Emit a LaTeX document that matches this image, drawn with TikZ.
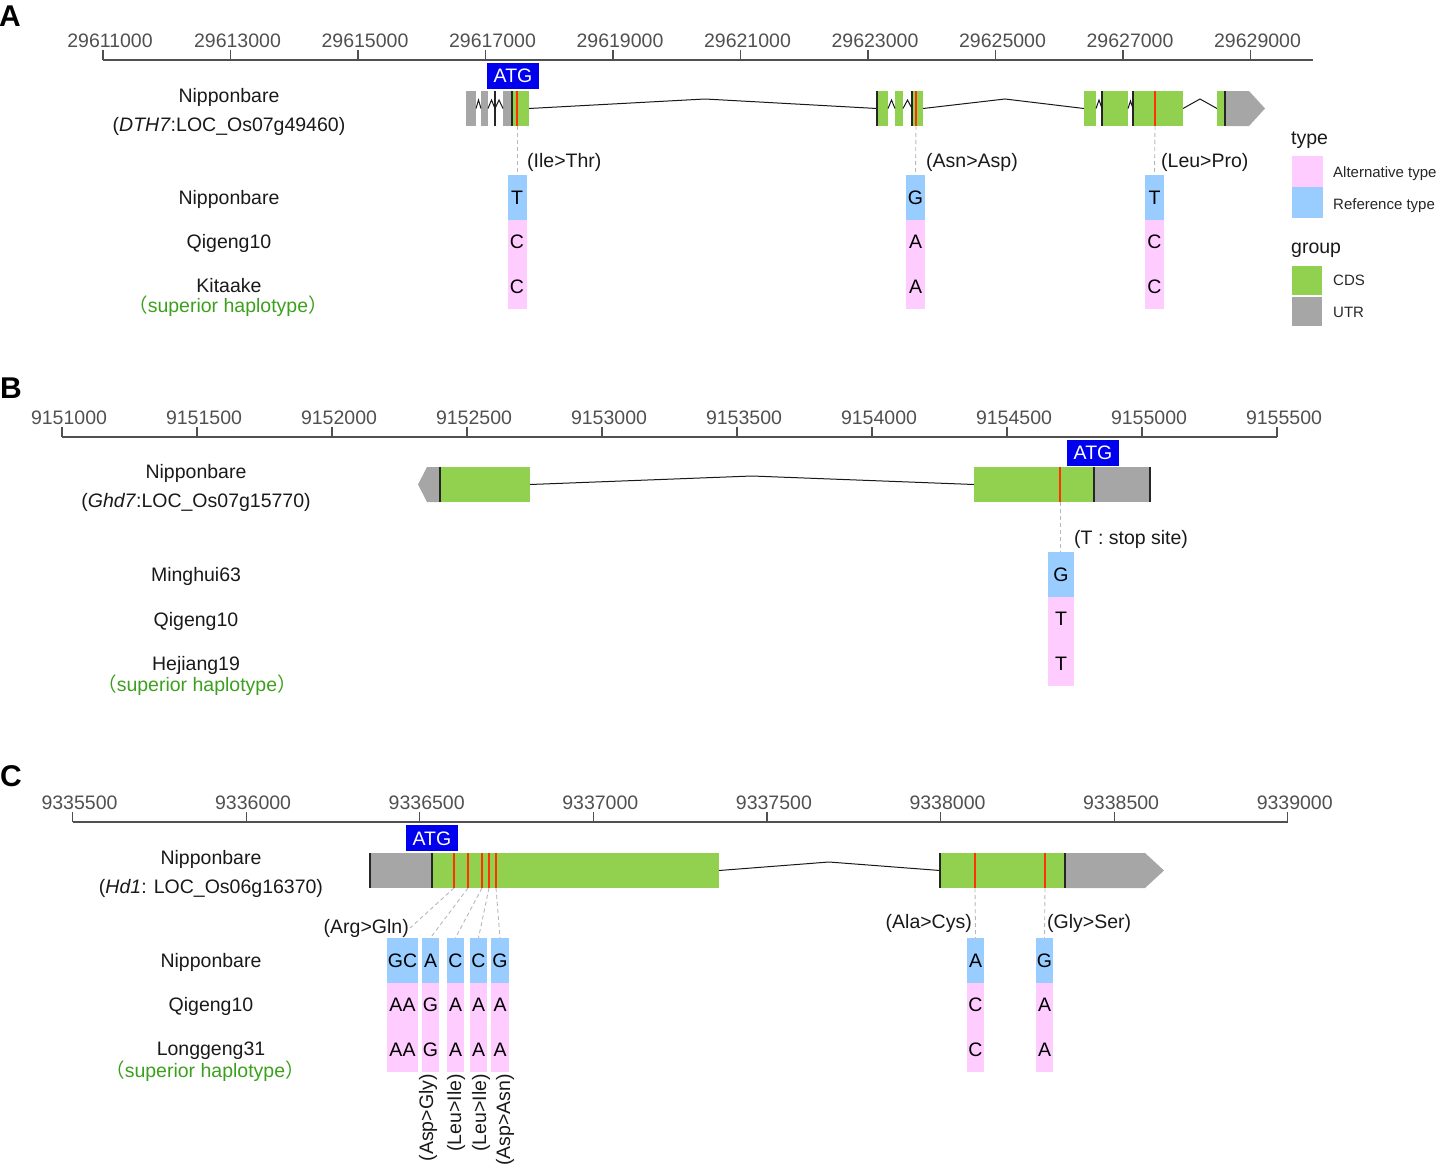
\documentclass[tikz,border=0pt]{standalone}
\usepackage{fontspec}
\setmainfont{Liberation Sans}
\newfontfamily\cjk{Noto Sans CJK SC}
\definecolor{cdsg}{RGB}{146,208,80}
\definecolor{utrg}{RGB}{166,166,166}
\definecolor{refb}{RGB}{153,204,255}
\definecolor{altp}{RGB}{255,204,255}
\definecolor{atgb}{RGB}{0,0,238}
\definecolor{snpred}{RGB}{255,51,0}
\definecolor{supg}{RGB}{60,160,30}
\definecolor{axisg}{RGB}{80,80,80}
\newcommand\fsz{\fontsize{19.5}{22}\selectfont}
\newcommand\fsl{\fontsize{15}{17}\selectfont}
\newcommand\suptext{{\cjk （}superior haplotype{\cjk ）}}
% variant column: name, x, ytop, width, ref, alt1, alt2
\newcommand\varcol[7]{%
  \node[refcell, minimum width=#4] (#1-1) at (#2,#3+22.25) {#5};
  \node[altcell, minimum width=#4] (#1-2) at (#2,#3+66.75) {#6};
  \node[altcell, minimum width=#4] (#1-3) at (#2,#3+111.25) {#7};}
\begin{document}
\begin{tikzpicture}[x=1pt,y=-1pt,
  txt/.style={font=\fsz, inner sep=0pt, text height=14pt, text depth=0pt, text=black!90},
  ticklab/.style={txt, text=axisg},
  sup/.style={txt, text=supg},
  leglab/.style={font=\fsl, inner sep=0pt, text height=11pt, text depth=0pt, text=black!85, anchor=west},
  legbox/.style={inner sep=0pt, minimum width=31pt, minimum height=31pt},
  panel/.style={font=\fontsize{30}{32}\selectfont\bfseries, inner sep=0pt},
  axisline/.style={draw=axisg, line width=1.2pt},
  cds/.style={fill=cdsg},
  utr/.style={fill=utrg},
  bnd/.style={draw=black!85, line width=1.1pt},
  snp/.style={draw=snpred, line width=1.1pt},
  intron/.style={draw=black!90, line width=1pt},
  atg/.style={fill=atgb, text=white, font=\fsz, inner sep=0pt, minimum width=52pt, minimum height=26pt, text height=14pt, text depth=0pt},
  refcell/.style={fill=refb, inner sep=0pt, minimum height=44.5pt, font=\fsz, text height=14pt, text depth=0pt},
  altcell/.style={fill=altp, inner sep=0pt, minimum height=44.5pt, font=\fsz, text height=14pt, text depth=0pt},
  link/.style={draw=black!28, dash pattern=on 4pt off 3pt, line width=0.9pt},
  rot/.style={txt, rotate=90, anchor=east}
]
\useasboundingbox (0,0) rectangle (1445,1167);

% ================= Panel A =================
\node[panel] (pA) at (10,16) {A};
\draw[axisline] (103,60) -- (1313,60);
\foreach \k in {0,...,9}{
  \pgfmathsetmacro\xx{103+127.5*\k}
  \draw[axisline] (\xx,50) -- (\xx,60);
  \node[ticklab] (tA\k) at (\xx+7,40) {\the\numexpr 29611000+2000*\k\relax};
}
% gene
\fill[utr] (466,91) rectangle (476,126);
\fill[utr] (481,91) rectangle (488,126);
\draw[bnd] (495,91) -- (495,126);
\fill[utr] (503,91) rectangle (512,126);
\fill[cds] (512,91) rectangle (529,126);
\draw[bnd] (512,91) -- (512,126);
\draw[snp] (517,91) -- (517,126);
\draw[intron] (476,108.5) -- (478.5,100) -- (481,108.5);
\draw[intron] (488,108.5) -- (491.5,100) -- (495,108.5);
\draw[intron] (495,108.5) -- (499,100) -- (503,108.5);
\draw[intron] (529,108.5) -- (705,99) -- (877,108.5);
\fill[cds] (877,91) rectangle (888,126);
\fill[cds] (895,91) rectangle (903,126);
\fill[cds] (912,91) rectangle (923,126);
\draw[bnd] (877,91) -- (877,126);
\draw[bnd] (912,91) -- (912,126);
\draw[snp] (916,91) -- (916,126);
\draw[intron] (888,108.5) -- (891.5,100) -- (895,108.5);
\draw[intron] (903,108.5) -- (907.5,100) -- (912,108.5);
\draw[intron] (923,108.5) -- (1005,99) -- (1084,108.5);
\fill[cds] (1084,91) rectangle (1096,126);
\fill[cds] (1102,91) rectangle (1128,126);
\fill[cds] (1133,91) rectangle (1183,126);
\draw[bnd] (1102,91) -- (1102,126);
\draw[bnd] (1133,91) -- (1133,126);
\draw[snp] (1155,91) -- (1155,126);
\draw[intron] (1096,108.5) -- (1099,100) -- (1102,108.5);
\draw[intron] (1128,108.5) -- (1130.5,101) -- (1133,108.5);
\draw[intron] (1183,108.5) -- (1200,99) -- (1217,108.5);
\fill[cds] (1217,91) rectangle (1225,126);
\fill[utr] (1225,91) -- (1249,91) -- (1265,108.5) -- (1249,126) -- (1225,126) -- cycle;
\draw[bnd] (1225,91) -- (1225,126);
\node[atg] (atgA) at (513,75.5) {ATG};
\node[txt] (gA1) at (229,95) {Nipponbare};
\node[txt] (gA2) at (229,124) {(\textit{DTH7}:LOC\_Os07g49460)};
% variants
\coordinate (sA1) at (517,126);
\coordinate (sA2) at (916,126);
\coordinate (sA3) at (1155,126);
\varcol{vA1}{517}{175}{19pt}{T}{C}{C}
\varcol{vA2}{915.5}{175}{19pt}{G}{A}{A}
\varcol{vA3}{1154.5}{175}{19pt}{T}{C}{C}
\draw[link] (sA1) -- (vA1-1.north);
\draw[link] (sA2) -- (vA2-1.north);
\draw[link] (sA3) -- (vA3-1.north);
\node[txt, anchor=west] (mA1) at (527,160) {(Ile>Thr)};
\node[txt, anchor=west] (mA2) at (926,160) {(Asn>Asp)};
\node[txt, anchor=west] (mA3) at (1161,160) {(Leu>Pro)};
\node[txt] (rA1) at (229,197) {Nipponbare};
\node[txt] (rA2) at (229,241.5) {Qigeng10};
\node[txt] (rA3) at (229,285) {Kitaake};
\node[sup] (rA4) at (228,305) {\suptext};
% legend
\node[txt, anchor=west] (lgT) at (1291,137) {type};
\node[legbox, fill=altp] (lgAlt) at (1307.5,171.5) {};
\node[legbox, fill=refb] (lgRef) at (1307.5,202.5) {};
\node[leglab] (lgAltT) at (1333,172) {Alternative type};
\node[leglab] (lgRefT) at (1333,204) {Reference type};
\node[txt, anchor=west] (lgG) at (1291,246) {group};
\node[legbox, fill=cdsg, minimum width=30pt, minimum height=29pt] (lgC) at (1307,280.5) {};
\node[legbox, fill=utrg, minimum width=30pt, minimum height=29pt] (lgU) at (1307,311.5) {};
\node[leglab] (lgCT) at (1333,280) {CDS};
\node[leglab] (lgUT) at (1333,312) {UTR};

% ================= Panel B =================
\node[panel] (pB) at (11,388) {B};
\draw[axisline] (62,437) -- (1277,437);
\foreach \k in {0,...,9}{
  \pgfmathsetmacro\xx{62+135*\k}
  \draw[axisline] (\xx,427) -- (\xx,437);
  \node[ticklab] (tB\k) at (\xx+7,417) {\the\numexpr 9151000+500*\k\relax};
}
\fill[utr] (440,467) -- (427,467) -- (418,484.5) -- (427,502) -- (440,502) -- cycle;
\fill[cds] (440,467) rectangle (530,502);
\draw[bnd] (440,467) -- (440,502);
\draw[intron] (530,484.5) -- (752,476) -- (974,484.5);
\fill[cds] (974,467) rectangle (1094,502);
\fill[utr] (1094,467) rectangle (1150,502);
\draw[snp] (1060,467) -- (1060,502);
\draw[bnd] (1094,467) -- (1094,502);
\draw[bnd] (1150,467) -- (1150,502);
\node[atg] (atgB) at (1093,452.5) {ATG};
\node[txt] (gB1) at (196,471) {Nipponbare};
\node[txt] (gB2) at (196,500) {(\textit{Ghd7}:LOC\_Os07g15770)};
\coordinate (sB1) at (1060,502);
\varcol{vB1}{1061}{552}{26pt}{G}{T}{T}
\draw[link] (sB1) -- (sB1 |- vB1-1.north);
\node[txt, anchor=west] (mB1) at (1074,537) {(T : stop site)};
\node[txt] (rB1) at (196,574) {Minghui63};
\node[txt] (rB2) at (196,619) {Qigeng10};
\node[txt] (rB3) at (196,663) {Hejiang19};
\node[sup] (rB4) at (197,684) {\suptext};

% ================= Panel C =================
\node[panel] (pC) at (11,776) {C};
\draw[axisline] (72.5,822) -- (1288,822);
\foreach \k in {0,...,7}{
  \pgfmathsetmacro\xx{72.5+173.6*\k}
  \draw[axisline] (\xx,812) -- (\xx,822);
  \node[ticklab] (tC\k) at (\xx+7,802) {\the\numexpr 9335500+500*\k\relax};
}
\fill[utr] (370,853) rectangle (432,888);
\fill[cds] (432,853) rectangle (719,888);
\draw[bnd] (370,853) -- (370,888);
\draw[bnd] (432,853) -- (432,888);
\foreach \s in {454,468,482,489,496}{\draw[snp] (\s,853) -- (\s,888);}
\draw[intron] (719,870.5) -- (829,862) -- (940,870.5);
\fill[cds] (940,853) rectangle (1065,888);
\fill[utr] (1065,853) -- (1145,853) -- (1164,870.5) -- (1145,888) -- (1065,888) -- cycle;
\draw[bnd] (940,853) -- (940,888);
\draw[snp] (975,853) -- (975,888);
\draw[snp] (1045,853) -- (1045,888);
\draw[bnd] (1065,853) -- (1065,888);
\node[atg] (atgC) at (432,838) {ATG};
\node[txt] (gC1) at (211,857) {Nipponbare};
\node[txt] (gC2) at (211,886) {(\textit{Hd1}: LOC\_Os06g16370)};
\coordinate (sC1) at (454,888);
\coordinate (sC2) at (468,888);
\coordinate (sC3) at (482,888);
\coordinate (sC4) at (489,888);
\coordinate (sC5) at (496,888);
\coordinate (sC6) at (975,888);
\coordinate (sC7) at (1045,888);
\coordinate (eC1) at (410,928);
\varcol{vC1}{402.5}{938}{31pt}{GC}{AA}{AA}
\varcol{vC2}{430.5}{938}{17.5pt}{A}{G}{G}
\varcol{vC3}{455.5}{938}{17.5pt}{C}{A}{A}
\varcol{vC4}{478.5}{938}{17.5pt}{C}{A}{A}
\varcol{vC5}{500}{938}{18pt}{G}{A}{A}
\varcol{vC6}{975.5}{938}{17.5pt}{A}{C}{C}
\varcol{vC7}{1044.5}{938}{17.5pt}{G}{A}{A}
\draw[link] (sC1) -- (eC1);
\draw[link] (sC2) -- (vC2-1.north);
\draw[link] (sC3) -- (vC3-1.north);
\draw[link] (sC4) -- (vC4-1.north);
\draw[link] (sC5) -- (vC5-1.north);
\draw[link] (sC6) -- (vC6-1.north);
\draw[link] (sC7) -- (vC7-1.north);
\node[txt, anchor=east] (mC1) at (409,926) {(Arg>Gln)};
\node[txt, anchor=east] (mC6) at (972,921) {(Ala>Cys)};
\node[txt, anchor=west] (mC7) at (1047,921) {(Gly>Ser)};
\node[rot] (mC2) at (426,1074) {(Asp>Gly)};
\node[rot] (mC3) at (454,1074) {(Leu>Ile)};
\node[rot] (mC4) at (479,1074) {(Leu>Ile)};
\node[rot] (mC5) at (503,1074) {(Asp>Asn)};
\node[txt] (rC1) at (211,960) {Nipponbare};
\node[txt] (rC2) at (211,1004) {Qigeng10};
\node[txt] (rC3) at (211,1048) {Longgeng31};
\node[sup] (rC4) at (205,1070) {\suptext};
\end{tikzpicture}
\end{document}
